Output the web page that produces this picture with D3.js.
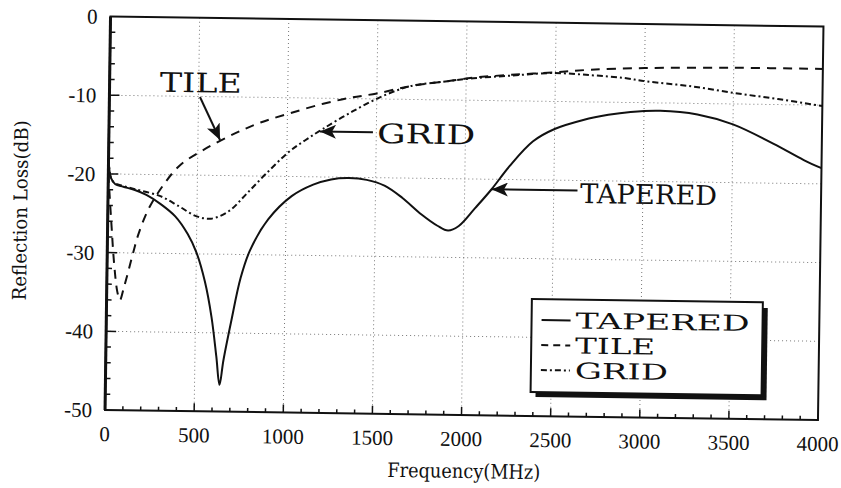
<!DOCTYPE html>
<html>
<head>
<meta charset="utf-8">
<script src="https://cdn.jsdelivr.net/npm/d3@7"></script>
<style>
  body { margin: 0; background: #fff; }
  text { fill: #111; }
</style>
</head>
<body>
<svg id="chart" width="841" height="488"></svg>
<script>
// ticks
const xTicks = [0, 500, 1000, 1500, 2000, 2500, 3000, 3500, 4000];
const yTicks = [0, -10, -20, -30, -40, -50];

// TAPERED (solid)
const taperedFreq = [0, 15, 40, 85, 150, 215, 300, 380, 450, 500, 550, 590, 620, 640, 660, 700, 750, 800, 900, 1030, 1150, 1250, 1350, 1450, 1550, 1650, 1760, 1850, 1910, 1970, 2060, 2150, 2250, 2380, 2500, 2660, 2800, 2925, 3090, 3300, 3500, 3730, 3900, 4000];
const taperedLoss = [-18, -20.5, -21.3, -21.6, -22.0, -22.6, -23.8, -25.3, -27.5, -29.8, -33.5, -38, -43, -46.6, -43.5, -38.6, -33, -29.5, -25.5, -22.5, -21, -20.3, -20.1, -20.3, -21.0, -22.5, -24.6, -26.0, -26.6, -26.0, -23.7, -21.3, -18.3, -15.1, -13.5, -12.3, -11.6, -11.2, -11.0, -11.4, -12.6, -15.0, -17.0, -18.0];

// TILE (dashed)
const tileFreq = [0, 20, 40, 60, 75, 95, 118, 145, 175, 230, 310, 400, 530, 710, 850, 1010, 1200, 1350, 1500, 1690, 1870, 2050, 2250, 2500, 2700, 3000, 3500, 4000];
const tileLoss = [-20, -26, -31.5, -35, -36, -34.5, -32.5, -30, -27.5, -24.3, -21.3, -18.8, -16.8, -14.6, -13.2, -12.0, -10.7, -9.9, -9.3, -8.3, -7.7, -7.1, -6.7, -6.3, -5.9, -5.6, -5.4, -5.4];

// GRID (dash-dot)
const gridFreq = [0, 15, 40, 85, 150, 290, 400, 495, 580, 680, 776, 880, 1010, 1100, 1200, 1367, 1535, 1690, 1870, 2040, 2250, 2480, 2700, 2885, 3015, 3250, 3504, 3750, 4000];
const gridLoss = [-18, -20.5, -21.2, -21.5, -21.9, -22.7, -24.0, -25.2, -25.5, -24.5, -22.3, -19.8, -16.9, -15.4, -13.9, -11.6, -9.6, -8.3, -7.7, -7.2, -6.8, -6.4, -6.6, -6.9, -7.3, -7.8, -8.6, -9.3, -10.1];

const seriesNames = ["TAPERED", "TILE", "GRID"];

// callouts: label spot, arrow tail, arrow tip (freq, dB)
const calloutText = ["TILE", "GRID", "TAPERED"];
const calloutAt = [[282, -9.47], [1505, -15.59], [2648, -22.86]];
const arrowFrom = [[508, -10.06], [1481, -14.24], [2633, -21.28]];
const arrowTo = [[624, -15.49], [1184, -14.24], [2153, -21.28]];

const margin = {left: 107.75, top: 21.5};
const width = 713, height = 393.5;
const dash = ["none", "9,7", "6,3,2,3"];

const svg = d3.select("#chart");
// the scan is tilted slightly clockwise
const root = svg.append("g")
  .attr("transform", "rotate(0.8," + (margin.left + width / 2) + "," + (margin.top + height / 2) + ")");
const g = root.append("g").attr("transform", "translate(" + margin.left + "," + margin.top + ")");

const x = d3.scaleLinear().domain([0, 4000]).range([0, width]);
const y = d3.scaleLinear().domain([-50, 0]).range([height, 0]);

// grid
g.selectAll(".vgrid").data(xTicks.slice(1, -1)).enter().append("line")
  .attr("x1", d => x(d)).attr("x2", d => x(d))
  .attr("y1", 0).attr("y2", height)
  .attr("stroke", "#777").attr("stroke-width", 1).attr("stroke-dasharray", "1,3");
g.selectAll(".hgrid").data(yTicks.slice(1, -1)).enter().append("line")
  .attr("x1", 0).attr("x2", width)
  .attr("y1", d => y(d)).attr("y2", d => y(d))
  .attr("stroke", "#777").attr("stroke-width", 1).attr("stroke-dasharray", "1,3");

// minor + major ticks (inside)
g.selectAll(".xminor").data(d3.range(100, 4000, 100)).enter().append("line")
  .attr("x1", d => x(d)).attr("x2", d => x(d))
  .attr("y1", height).attr("y2", d => height - (d % 500 === 0 ? 8 : 4))
  .attr("stroke", "#111").attr("stroke-width", 1.5);
g.selectAll(".yminor").data(d3.range(-48, 0, 2)).enter().append("line")
  .attr("x1", 0).attr("x2", d => (d % 10 === 0 ? 10 : 5))
  .attr("y1", d => y(d)).attr("y2", d => y(d))
  .attr("stroke", "#111").attr("stroke-width", 1.5);

// frame
g.append("rect").attr("width", width).attr("height", height)
  .attr("fill", "none").attr("stroke", "#111").attr("stroke-width", 2);
g.append("line").attr("x1", 0).attr("x2", 0).attr("y1", 0).attr("y2", height)
  .attr("stroke", "#111").attr("stroke-width", 3);

// tick labels
g.selectAll(".xlab").data(xTicks).enter().append("text")
  .attr("x", d => x(d)).attr("y", height + 31)
  .attr("text-anchor", "middle")
  .style("font-family", "'Liberation Serif', 'Times New Roman', serif")
  .style("font-size", "21px")
  .text(d => d);
g.selectAll(".ylab").data(yTicks).enter().append("text")
  .attr("x", -13).attr("y", d => y(d))
  .attr("dy", "0.35em")
  .attr("text-anchor", "end")
  .style("font-family", "'Liberation Serif', 'Times New Roman', serif")
  .style("font-size", "21px")
  .text(d => d);

// axis titles
g.append("text")
  .attr("x", width / 2 + 3).attr("y", height + 63)
  .attr("text-anchor", "middle")
  .attr("textLength", 153).attr("lengthAdjust", "spacingAndGlyphs")
  .style("font-family", "'DejaVu Serif', serif").style("font-size", "20px")
  .text("Frequency(MHz)");
g.append("text")
  .attr("transform", "translate(" + (20 - margin.left + 7) + "," + (216.5 - margin.top) + ") rotate(-90)")
  .attr("text-anchor", "middle")
  .attr("textLength", 180).attr("lengthAdjust", "spacingAndGlyphs")
  .style("font-family", "'DejaVu Serif', serif").style("font-size", "19px")
  .text("Reflection Loss(dB)");

// curves
const line = d3.line()
  .x(d => x(d[0])).y(d => y(d[1]))
  .curve(d3.curveCatmullRom.alpha(0.5));
const series = [
  d3.zip(taperedFreq, taperedLoss),
  d3.zip(tileFreq, tileLoss),
  d3.zip(gridFreq, gridLoss)
];
g.selectAll(".curve").data(series).enter().append("path")
  .attr("d", line)
  .attr("fill", "none")
  .attr("stroke", "#111")
  .attr("stroke-width", 2)
  .attr("stroke-dasharray", (d, i) => dash[i]);

// callouts
svg.append("defs").append("marker")
  .attr("id", "head").attr("viewBox", "0 0 16 14")
  .attr("refX", 16).attr("refY", 7)
  .attr("markerWidth", 16).attr("markerHeight", 14)
  .attr("markerUnits", "userSpaceOnUse")
  .attr("orient", "auto")
  .append("path").attr("d", "M0,0 L16,7 L0,14 L4,7 Z").attr("fill", "#111");

const calloutWidth = [82, 98, 137];
g.selectAll(".callout").data(calloutText).enter().append("text")
  .attr("x", (d, i) => x(calloutAt[i][0]))
  .attr("y", (d, i) => y(calloutAt[i][1]))
  .attr("textLength", (d, i) => calloutWidth[i]).attr("lengthAdjust", "spacingAndGlyphs")
  .style("font-family", "'DejaVu Serif', serif").style("font-size", "27px")
  .text(d => d);
g.selectAll(".arrow").data(arrowFrom).enter().append("line")
  .attr("x1", d => x(d[0])).attr("y1", d => y(d[1]))
  .attr("x2", (d, i) => x(arrowTo[i][0])).attr("y2", (d, i) => y(arrowTo[i][1]))
  .attr("stroke", "#111").attr("stroke-width", 2)
  .attr("marker-end", "url(#head)");

// legend
const lg = g.append("g").attr("transform", "translate(" + (533 - margin.left) + "," + (298 - margin.top) + ")");
const lw = 231, lh = 93;
lg.append("rect").attr("x", 5).attr("y", 5).attr("width", lw).attr("height", lh).attr("fill", "#111");
lg.append("rect").attr("width", lw).attr("height", lh).attr("fill", "#fff")
  .attr("stroke", "#111").attr("stroke-width", 2);
const legendWidth = [174, 80, 93];
const legendRow = lg.selectAll(".row").data(seriesNames).enter().append("g")
  .attr("transform", (d, i) => "translate(0," + (21 + i * 25) + ")");
legendRow.append("line")
  .attr("x1", 10).attr("x2", 39).attr("y1", 0).attr("y2", 0)
  .attr("stroke", "#111").attr("stroke-width", 2)
  .attr("stroke-dasharray", (d, i) => (i === 1 ? "7,5" : dash[i]));
legendRow.append("text")
  .attr("x", 44).attr("y", 8)
  .attr("textLength", (d, i) => legendWidth[i]).attr("lengthAdjust", "spacingAndGlyphs")
  .style("font-family", "'DejaVu Serif', serif").style("font-size", "22px")
  .text(d => d);
</script>
</body>
</html>
